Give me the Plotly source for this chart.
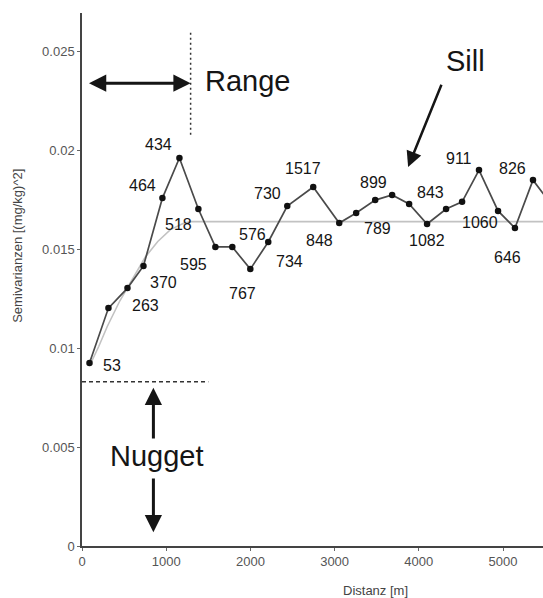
import plotly.graph_objects as go

# Empirical semivariogram: lag distance [m], semivariance, number of pairs
lag_m = [89, 314, 540, 730, 955, 1157, 1382, 1584, 1785, 1999, 2212, 2438, 2746,
         3055, 3256, 3482, 3683, 3885, 4098, 4324, 4514, 4715, 4941, 5142, 5356, 5570]
gamma = [0.00925, 0.01203, 0.01304, 0.01416, 0.01759, 0.01962, 0.01704, 0.01512,
         0.01512, 0.01400, 0.01537, 0.01719, 0.01815, 0.01633, 0.01684, 0.01749,
         0.01775, 0.01729, 0.01628, 0.01704, 0.01740, 0.01901, 0.01694, 0.01608,
         0.01850, 0.01730]
pairs = ["53", "263", "370", "", "464", "434", "518", "595", "576", "767", "734",
         "730", "1517", "848", "789", "", "899", "843", "1082", "", "1060", "911",
         "", "646", "826", ""]

# Pixel offsets of the pair-count labels relative to their point
label_dx = [23, 37, 36, 0, -20, -21, -20, -22, 20, -8, 21, -20, -10, -20, 21, 0,
            -19, 21, 0, 0, 18, -20, 0, -7, -20, 0]
label_dy = [2, -3, -6, 0, -13, -13, 16, 18, -12, 24, 19, -13, -19, 17, 16, 0,
            -12, -12, 16, 0, 21, -12, 0, 30, -12, 0]

# Fitted spherical model as drawn (light grey curve)
model_x = [89, 200, 300, 450, 600, 750, 900, 1050, 1200, 1290, 5600]
model_y = [0.0091, 0.0101, 0.0111, 0.0124, 0.0135, 0.0146, 0.0154, 0.0160, 0.0163, 0.0164, 0.0164]

nugget = 0.0083
sill = 0.0164
range_m = 1290

x_ticks = [0, 1000, 2000, 3000, 4000, 5000]
y_ticks = [0, 0.005, 0.01, 0.015, 0.02, 0.025]
y_tick_text = ["0", "0.005", "0.01", "0.015", "0.02", "0.025"]

FONT = "Liberation Sans, Arial, sans-serif"
INK = "#151515"

fig = go.Figure()

fig.add_trace(go.Scatter(
    x=model_x, y=model_y, mode="lines",
    line=dict(color="#c2c2c2", width=1.6), hoverinfo="skip", showlegend=False,
))

fig.add_trace(go.Scatter(
    x=lag_m, y=gamma, mode="lines+markers",
    line=dict(color="#4a4a4a", width=1.7),
    marker=dict(color="#111111", size=6.5),
    showlegend=False,
))

annotations = []
for xv, yv, txt, dx, dy in zip(lag_m, gamma, pairs, label_dx, label_dy):
    if not txt:
        continue
    annotations.append(dict(
        x=xv, y=yv, xref="x", yref="y", text=txt, showarrow=False,
        xshift=dx, yshift=-dy, font=dict(family=FONT, size=16, color=INK),
    ))

# Range: double arrow from origin to range distance
annotations.append(dict(
    x=range_m, y=0.0234, ax=65, ay=0.0234, xref="x", yref="y", axref="x", ayref="y",
    text="", showarrow=True, arrowhead=2, startarrowhead=2, arrowside="end+start",
    arrowwidth=3, arrowsize=1.15, startarrowsize=1.15, arrowcolor=INK,
))
annotations.append(dict(
    x=range_m + 150, y=0.0235, xref="x", yref="y", text="Range", showarrow=False,
    xanchor="left", font=dict(family=FONT, size=29, color=INK),
))

# Sill label and arrow
annotations.append(dict(
    x=3873, y=0.01916, ax=4276, ay=0.0234, xref="x", yref="y", axref="x", ayref="y",
    text="", showarrow=True, arrowhead=2, arrowwidth=2.5, arrowsize=1.25, arrowcolor=INK,
))
annotations.append(dict(
    x=4550, y=0.0245, xref="x", yref="y", text="Sill", showarrow=False,
    font=dict(family=FONT, size=29, color=INK),
))

# Nugget label and arrows
annotations.append(dict(
    x=848, y=0.0080, ax=848, ay=0.00536, xref="x", yref="y", axref="x", ayref="y",
    text="", showarrow=True, arrowhead=2, arrowwidth=3, arrowsize=1.15, arrowcolor=INK,
))
annotations.append(dict(
    x=848, y=0.0007, ax=848, ay=0.00349, xref="x", yref="y", axref="x", ayref="y",
    text="", showarrow=True, arrowhead=2, arrowwidth=3, arrowsize=1.15, arrowcolor=INK,
))
annotations.append(dict(
    x=885, y=0.00455, xref="x", yref="y", text="Nugget", showarrow=False,
    font=dict(family=FONT, size=29, color=INK),
))

# Axis titles
annotations.append(dict(
    x=-0.139, y=0.563, xref="paper", yref="paper", text="Semivarianzen [(mg/kg)^2]",
    textangle=-90, showarrow=False, xanchor="center", yanchor="middle",
    font=dict(family=FONT, size=13, color="#444444"),
))
annotations.append(dict(
    x=0.636, y=-0.084, xref="paper", yref="paper", text="Distanz [m]",
    showarrow=False, xanchor="center", yanchor="middle",
    font=dict(family=FONT, size=13, color="#444444"),
))

shapes = [
    # nugget level
    dict(type="line", xref="x", yref="y", x0=0, x1=1500, y0=nugget, y1=nugget,
         line=dict(color="#333333", width=1.5, dash="4px,3px")),
    # range distance
    dict(type="line", xref="x", yref="y", x0=range_m, x1=range_m, y0=0.0208, y1=0.0261,
         line=dict(color="#333333", width=1.5, dash="2px,3px")),
]

axis_style = dict(
    showline=True, linecolor="#444444", linewidth=1.5, showgrid=False, zeroline=False,
    ticks="outside", ticklen=3, tickcolor="#666666",
    tickfont=dict(family=FONT, size=13, color="#555555"),
)

fig.update_layout(
    width=543, height=598,
    margin=dict(l=82, r=0, t=13, b=52),
    paper_bgcolor="white", plot_bgcolor="white",
    xaxis=dict(range=[0, 5475], tickvals=x_ticks, **axis_style),
    yaxis=dict(range=[0, 0.02695], tickvals=y_ticks, ticktext=y_tick_text, **axis_style),
    annotations=annotations, shapes=shapes,
)

fig.write_html("out.html")
